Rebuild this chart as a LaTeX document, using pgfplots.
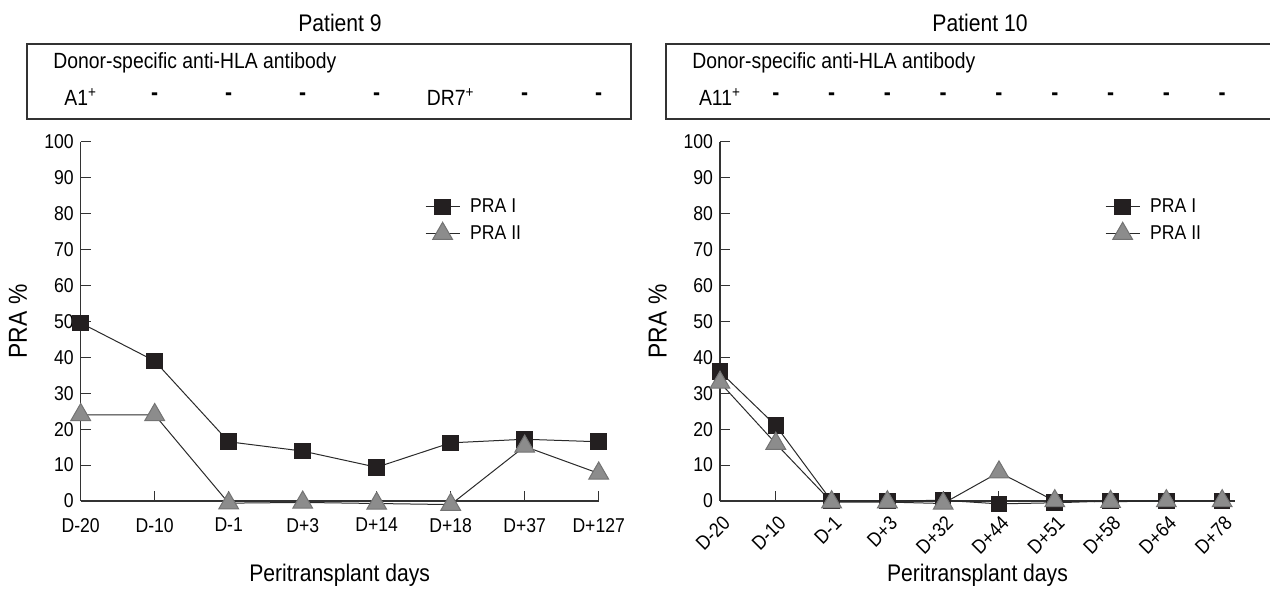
\documentclass[border=0pt]{standalone}
\usepackage{fontspec}
\setmainfont{Liberation Sans}[FakeStretch=0.88]
\usepackage{pgfplots}
\pgfplotsset{compat=1.18}

\definecolor{sqfill}{HTML}{231F20}
\definecolor{trifill}{HTML}{8C8C8C}
\definecolor{lncol}{HTML}{2A2A2A}
\definecolor{axcol}{HTML}{333333}

\tikzset{
  hdr/.style={font=\fontsize{11}{13}\selectfont},
  ttl/.style={font=\fontsize{12}{14}\selectfont},
  dsh/.style={font=\fontsize{12}{13}\bfseries},
}

\pgfplotsset{
  pra/.style={
    scale only axis, height=179.5pt,
    ymin=0, ymax=100, ytick={0,10,...,100},
    axis lines=left, axis line style={-, line width=0.6pt, axcol},
    tick align=inside, major tick length=5pt,
    tick style={axcol, line width=0.5pt},
    clip=false,
    ticklabel style={font=\fontsize{10}{11}\selectfont},
    /pgf/number format/assume math mode=true,
    ylabel={PRA \%},
    ylabel style={font=\fontsize{13}{14}\selectfont, at={(axis description cs:-0.121,0.5)}, anchor=center},
    xlabel={Peritransplant days},
    xlabel style={font=\fontsize{12}{14}\selectfont, at={(axis description cs:0.5,-0.206)}, anchor=center},
    legend style={draw=none, fill=none, font=\fontsize{10}{11}\selectfont,
      row sep=1pt, inner sep=0pt, anchor=west,
      nodes={inner xsep=5pt, inner ysep=2pt}},
    legend cell align=left,
  },
  pra1/.style={color=lncol, line width=0.5pt, mark=square*, mark size=3.9pt,
    mark options={fill=sqfill, draw=sqfill}},
  pra2/.style={color=lncol, line width=0.5pt, mark=triangle*, mark size=5.7pt,
    mark options={fill=trifill, draw=black!55}},
}

\begin{document}
\begin{tikzpicture}
\path[use as bounding box] (0,0) rectangle (635pt,294.5pt);

% header boxes and titles, in pixel units
\begin{scope}[x=0.5pt, y=0.5pt]
  \draw[axcol, line width=0.7pt] (27,470) rectangle (631,545);
  \draw[axcol, line width=0.7pt] (666,470) rectangle (1280,545);
  \node[ttl] at (340,566) {Patient 9};
  \node[ttl] at (980,566) {Patient 10};
  \node[hdr, anchor=west, inner sep=0pt] at (53,526) {Donor-specific anti-HLA antibody};
  \node[hdr, anchor=west, inner sep=0pt] at (692,526) {Donor-specific anti-HLA antibody};
\end{scope}

% Patient 9
\begin{axis}[pra,
    at={(40.35pt,44pt)}, anchor=south west,
    width=259pt, xmin=0, xmax=7,
    xtick={0,...,7},
    xticklabels={D-20,D-10,D-1,D+3,D+14,D+18,D+37,D+127},
    xticklabel style={yshift=-5pt},
    legend style={at={(axis description cs:0.664,0.782)}},
]
\addplot[pra1] coordinates {(0,49.6) (1,39) (2,16.5) (3,13.9) (4,9.4) (5,16.2) (6,17.2) (7,16.5)};
\addlegendentry{PRA I}
\addplot[pra2] coordinates {(0,24) (1,24) (2,-0.6) (3,-0.4) (4,-0.7) (5,-1) (6,15.2) (7,7.7)};
\addlegendentry{PRA II}

\node[hdr] at (axis cs:0,112.5) {A1\textsuperscript{+}};
\node[dsh] at (axis cs:1,112.5) {-};
\node[dsh] at (axis cs:2,112.5) {-};
\node[dsh] at (axis cs:3,112.5) {-};
\node[dsh] at (axis cs:4,112.5) {-};
\node[hdr] at (axis cs:5,112.5) {DR7\textsuperscript{+}};
\node[dsh] at (axis cs:6,112.5) {-};
\node[dsh] at (axis cs:7,112.5) {-};
\end{axis}

% Patient 10
\begin{axis}[pra,
    at={(360pt,44pt)}, anchor=south west,
    width=257.5pt, xmin=0, xmax=9.23,
    xtick={0,...,9},
    xticklabels={D-20,D-10,D-1,D+3,D+32,D+44,D+51,D+58,D+64,D+78},
    xticklabel style={rotate=45, anchor=east, yshift=-9pt, xshift=-1pt},
    legend style={at={(axis description cs:0.747,0.782)}},
]
\addplot[pra1] coordinates {(0,36) (1,21) (2,0) (3,0) (4,0.2) (5,-0.8) (6,-0.5) (7,0) (8,0) (9,0)};
\addlegendentry{PRA I}
\addplot[pra2] coordinates {(0,33) (1,16) (2,-0.3) (3,-0.3) (4,-0.7) (5,8) (6,0) (7,-0.2) (8,0) (9,0)};
\addlegendentry{PRA II}

\node[hdr] at (axis cs:0,112.5) {A11\textsuperscript{+}};
\node[dsh] at (axis cs:1,112.5) {-};
\node[dsh] at (axis cs:2,112.5) {-};
\node[dsh] at (axis cs:3,112.5) {-};
\node[dsh] at (axis cs:4,112.5) {-};
\node[dsh] at (axis cs:5,112.5) {-};
\node[dsh] at (axis cs:6,112.5) {-};
\node[dsh] at (axis cs:7,112.5) {-};
\node[dsh] at (axis cs:8,112.5) {-};
\node[dsh] at (axis cs:9,112.5) {-};
\end{axis}
\end{tikzpicture}
\end{document}
